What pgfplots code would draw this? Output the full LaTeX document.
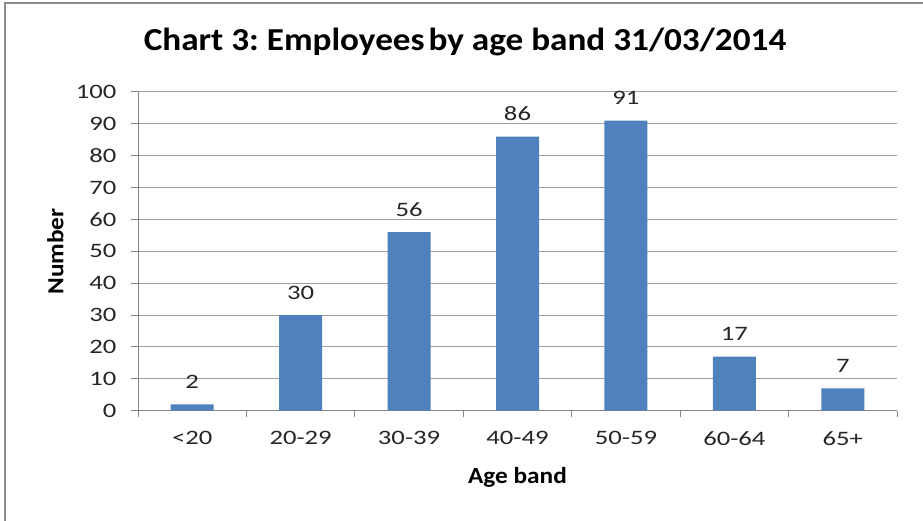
\documentclass[border=0pt]{standalone}
\usepackage{fontspec}
\usepackage{pgfplots}
\pgfplotsset{compat=1.18}
\setmainfont{Carlito}
\newfontfamily\regf{Carlito}[FakeStretch=1.3]
\newfontfamily\boldf{Carlito}[FakeStretch=1.1]
\definecolor{barblue}{RGB}{79,129,189}
\definecolor{axgray}{RGB}{134,134,134}
\definecolor{gridgray}{RGB}{160,160,160}
\definecolor{framegray}{RGB}{140,140,140}
\frenchspacing
\begin{document}
\begin{tikzpicture}[x=1pt,y=1pt]
\useasboundingbox (0,0) rectangle (923,520);
\fill[white] (0,0) rectangle (923,520);
\draw[framegray, line width=1.5pt] (5,-10) -- (5,517) -- (940,517);
\begin{axis}[
    at={(138pt,109.3pt)}, anchor=south west,
    scale only axis, width=759pt, height=318.7pt,
    ybar, bar width=43pt,
    xmin=-0.5, xmax=6.5, ymin=0, ymax=100,
    ytick={0,10,...,100},
    xtick={0,...,6},
    xticklabels={<20,20-29,30-39,40-49,50-59,60-64,65+},
    minor xtick={-0.5,0.5,...,6.5},
    axis x line*=bottom, axis y line*=left,
    axis line style={-, draw=axgray, line width=1pt},
    ymajorgrids, grid style={gridgray, line width=1pt},
    tick align=outside,
    major tick length=7pt, minor tick length=6pt,
    major x tick style={draw=none},
    every tick/.style={axgray, line width=1pt},
    /pgf/number format/assume math mode=true,
    ticklabel style={font=\regf\fontsize{20.5}{24}\selectfont, text=black!85},
    xticklabel style={yshift=-10pt},
    yticklabel style={xshift=-11pt},
    xlabel={Age band}, ylabel={Number},
    xlabel style={at={(axis description cs:0.5,-0.2269)}, anchor=base,
        font=\boldf\bfseries\fontsize{23}{28}\selectfont},
    ylabel style={at={(axis description cs:-0.0984,0.5)}, anchor=base,
        font=\boldf\bfseries\fontsize{23}{28}\selectfont},
    title={Chart 3: Employees\hspace{0.12em}by age band 31/03/2014},
    title style={at={(axis description cs:0.4308,1.112)}, anchor=base,
        font=\boldf\bfseries\fontsize{32}{38}\selectfont},
    nodes near coords,
    every node near coord/.append style={anchor=base, yshift=16pt,
        inner sep=0pt, font=\regf\fontsize{20.5}{24}\selectfont, text=black!85},
]
\addplot[fill=barblue, draw=none] coordinates {
(0,2) (1,30) (2,56) (3,86) (4,91) (5,17) (6,7)
};
\end{axis}
\end{tikzpicture}
\end{document}
